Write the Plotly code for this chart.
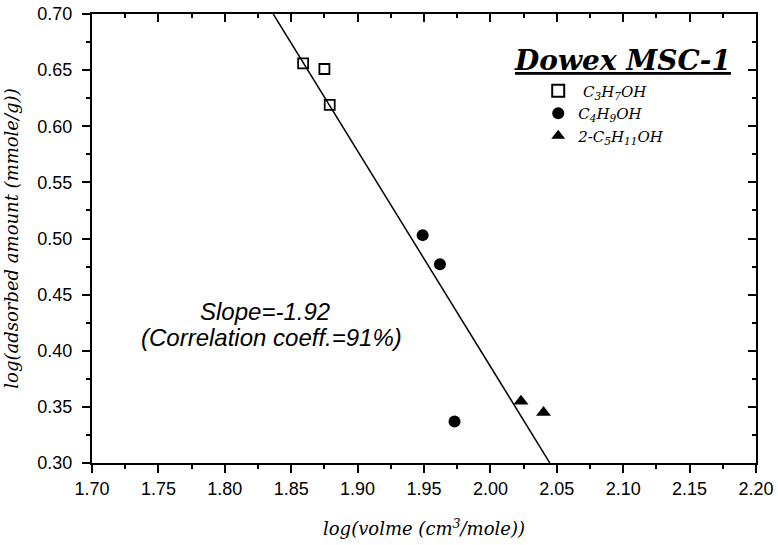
import plotly.graph_objects as go

# Data
c3_x = [1.859, 1.875, 1.879]
c3_y = [0.656, 0.651, 0.619]
c4_x = [1.949, 1.962, 1.973]
c4_y = [0.503, 0.477, 0.337]
c5_x = [2.023, 2.040]
c5_y = [0.355, 0.345]

slope = -1.92
intercept = 4.226
fit_x = [1.8365, 2.0448]
fit_y = [slope * v + intercept for v in fit_x]

x_range = [1.70, 2.20]
y_range = [0.30, 0.70]
x_ticks = [1.70, 1.75, 1.80, 1.85, 1.90, 1.95, 2.00, 2.05, 2.10, 2.15, 2.20]
y_ticks = [0.30, 0.35, 0.40, 0.45, 0.50, 0.55, 0.60, 0.65, 0.70]

serif = "DejaVu Serif, Liberation Serif, serif"
sans = "Liberation Sans, Arial, sans-serif"

fig = go.Figure()
fig.add_trace(go.Scatter(x=fit_x, y=fit_y, mode="lines",
                         line=dict(color="black", width=1.5), showlegend=False))
fig.add_trace(go.Scatter(x=c3_x, y=c3_y, mode="markers",
                         name=" C<sub>3</sub>H<sub>7</sub>OH",
                         marker=dict(symbol="square-open", size=10, color="black",
                                     line=dict(width=1.8, color="black"))))
fig.add_trace(go.Scatter(x=c4_x, y=c4_y, mode="markers",
                         name="C<sub>4</sub>H<sub>9</sub>OH",
                         marker=dict(symbol="circle", size=12, color="black")))
fig.add_trace(go.Scatter(x=c5_x, y=c5_y, mode="markers",
                         name="2-C<sub>5</sub>H<sub>11</sub>OH",
                         marker=dict(symbol="triangle-up", size=13, color="black")))
# dummy trace for mirrored inside ticks axes
fig.add_trace(go.Scatter(x=[None], y=[None], xaxis="x2", yaxis="y2",
                         showlegend=False, hoverinfo="skip"))

axis_common = dict(showgrid=False, zeroline=False, linecolor="black", linewidth=2,
                   showline=True, automargin=False,
                   ticks="outside", ticklen=8, tickwidth=1.5, tickcolor="black",
                   tickfont=dict(family=sans, size=18, color="black"))

fig.update_layout(
    width=778, height=545,
    margin=dict(l=92, r=22, t=14, b=82),
    plot_bgcolor="white", paper_bgcolor="white",
    xaxis=dict(range=x_range, tickvals=x_ticks, tickformat=".2f",
               minor=dict(ticks="outside", ticklen=4, tickwidth=1.5, tickcolor="black",
                          dtick=0.025, tick0=1.70, showgrid=False),
               title=dict(text="log(volme (cm<sup>3</sup>/mole))",
                          font=dict(family=serif, size=18, color="black", style="italic"),
                          standoff=25),
               **axis_common),
    yaxis=dict(range=y_range, tickvals=y_ticks, tickformat=".2f",
               minor=dict(ticks="outside", ticklen=4, tickwidth=1.5, tickcolor="black",
                          dtick=0.025, tick0=0.30, showgrid=False),
               ticklabelstandoff=6,
               title=dict(text="log(adsorbed amount (mmole/g))",
                          font=dict(family=serif, size=18, color="black", style="italic"),
                          standoff=14),
               **axis_common),
    xaxis2=dict(range=x_range, overlaying="x", side="top", tickvals=x_ticks,
                showticklabels=False, showgrid=False, zeroline=False,
                linecolor="black", linewidth=2, showline=True, automargin=False,
                ticks="inside", ticklen=8, tickwidth=1.5, tickcolor="black",
                minor=dict(ticks="inside", ticklen=4, tickwidth=1.5, tickcolor="black",
                           dtick=0.025, tick0=1.70)),
    yaxis2=dict(range=y_range, overlaying="y", side="right", tickvals=y_ticks,
                showticklabels=False, showgrid=False, zeroline=False,
                linecolor="black", linewidth=2, showline=True, automargin=False,
                ticks="inside", ticklen=8, tickwidth=1.5, tickcolor="black",
                minor=dict(ticks="inside", ticklen=4, tickwidth=1.5, tickcolor="black",
                           dtick=0.025, tick0=0.30)),
    legend=dict(x=0.672, y=0.865, xanchor="left", yanchor="top",
                bgcolor="rgba(0,0,0,0)",
                font=dict(family=serif, size=15, color="black", style="italic"),
                itemsizing="constant"),
)

fig.add_annotation(xref="paper", yref="paper", x=0.799, y=0.855,
                   text="<b><i><u>Dowex MSC-1</u></i></b>", showarrow=False,
                   font=dict(family=serif, size=28, color="black"),
                   xanchor="center", yanchor="bottom")
fig.add_annotation(x=1.830, y=0.4346, text="<i>Slope=-1.92</i>",
                   showarrow=False, font=dict(family=sans, size=24, color="black"),
                   xanchor="center", yanchor="middle")
fig.add_annotation(x=1.835, y=0.4115, text="<i>(Correlation coeff.=91%)</i>",
                   showarrow=False, font=dict(family=sans, size=24, color="black"),
                   xanchor="center", yanchor="middle")

fig.write_html("out.html")
